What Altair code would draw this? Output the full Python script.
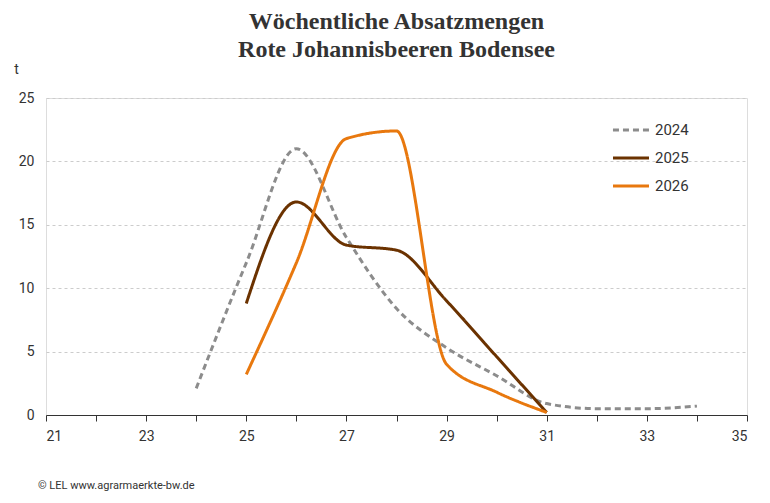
import altair as alt
import pandas as pd

weeks_2024 = [24, 25, 26, 27, 28, 29, 30, 31, 32, 33, 34]
vals_2024 = [2.1, 12.0, 21.0, 14.0, 8.4, 5.3, 3.1, 0.9, 0.5, 0.5, 0.7]
weeks_2025 = [25, 26, 27, 28, 29, 30, 31]
vals_2025 = [8.8, 16.8, 13.4, 13.0, 9.0, 4.6, 0.2]
weeks_2026 = [25, 26, 27, 28, 29, 30, 31]
vals_2026 = [3.2, 12.0, 21.8, 22.4, 4.0, 1.8, 0.2]

rows = []
for year, wk, vs in [("2024", weeks_2024, vals_2024),
                     ("2025", weeks_2025, vals_2025),
                     ("2026", weeks_2026, vals_2026)]:
    for w, v in zip(wk, vs):
        rows.append({"Jahr": year, "KW": w, "t": v})
df = pd.DataFrame(rows)

years = ["2024", "2025", "2026"]
colors = ["#8c8c8c", "#6b3200", "#e8780e"]
dashes = [[6, 4], [1, 0], [1, 0]]

lines = alt.Chart(df).mark_line(interpolate="monotone", strokeWidth=3).encode(
    x=alt.X("KW:Q", scale=alt.Scale(domain=[21, 35], nice=False),
            axis=alt.Axis(values=list(range(21, 36)), labelExpr="datum.value % 2 == 1 ? datum.label : ''",
                          grid=False, tickSize=6, domainColor="#333", tickColor="#333",
                          labelFontSize=14, labelColor="#333", labelPadding=8), title=None),
    y=alt.Y("t:Q", scale=alt.Scale(domain=[0, 25], nice=False),
            axis=alt.Axis(values=[0, 5, 10, 15, 20, 25], gridDash=[3, 3], gridColor="#cccccc",
                          domain=False, ticks=False, labelFontSize=14, labelColor="#333",
                          labelPadding=12, title="t", titleAngle=0, titleX=-30, titleY=-22,
                          titleFontSize=14, titleFontWeight="normal", titleColor="#333")),
    color=alt.Color("Jahr:N", scale=alt.Scale(domain=years, range=colors),
                    legend=alt.Legend(title=None, orient="none", legendX=565, legendY=12,
                                      symbolType="stroke", symbolSize=1300, symbolStrokeWidth=3,
                                      labelFontSize=15, labelColor="#333", rowPadding=0)),
    strokeDash=alt.StrokeDash("Jahr:N", scale=alt.Scale(domain=years, range=dashes), legend=None),
)

footer = alt.Chart(pd.DataFrame({"txt": ["© LEL www.agrarmaerkte-bw.de"]})).mark_text(
    align="left", fontSize=11, color="#333", font="Roboto"
).encode(text="txt:N", x=alt.value(-8), y=alt.value(388))

chart = (lines + footer).properties(
    width=754, height=487,
    autosize=alt.AutoSizeParams(type="fit", contains="padding"),
    padding={"left": 5, "right": 14, "top": 2, "bottom": 52},
    title=alt.Title(["Wöchentliche Absatzmengen", "Rote Johannisbeeren Bodensee"],
                    font="Liberation Serif", fontSize=24, fontWeight="bold", color="#333",
                    lineHeight=28, anchor="middle", offset=0),
).configure_view(stroke=None).configure(font="Roboto")

chart.save("out.html", embed_options={"renderer": "svg", "actions": False})
